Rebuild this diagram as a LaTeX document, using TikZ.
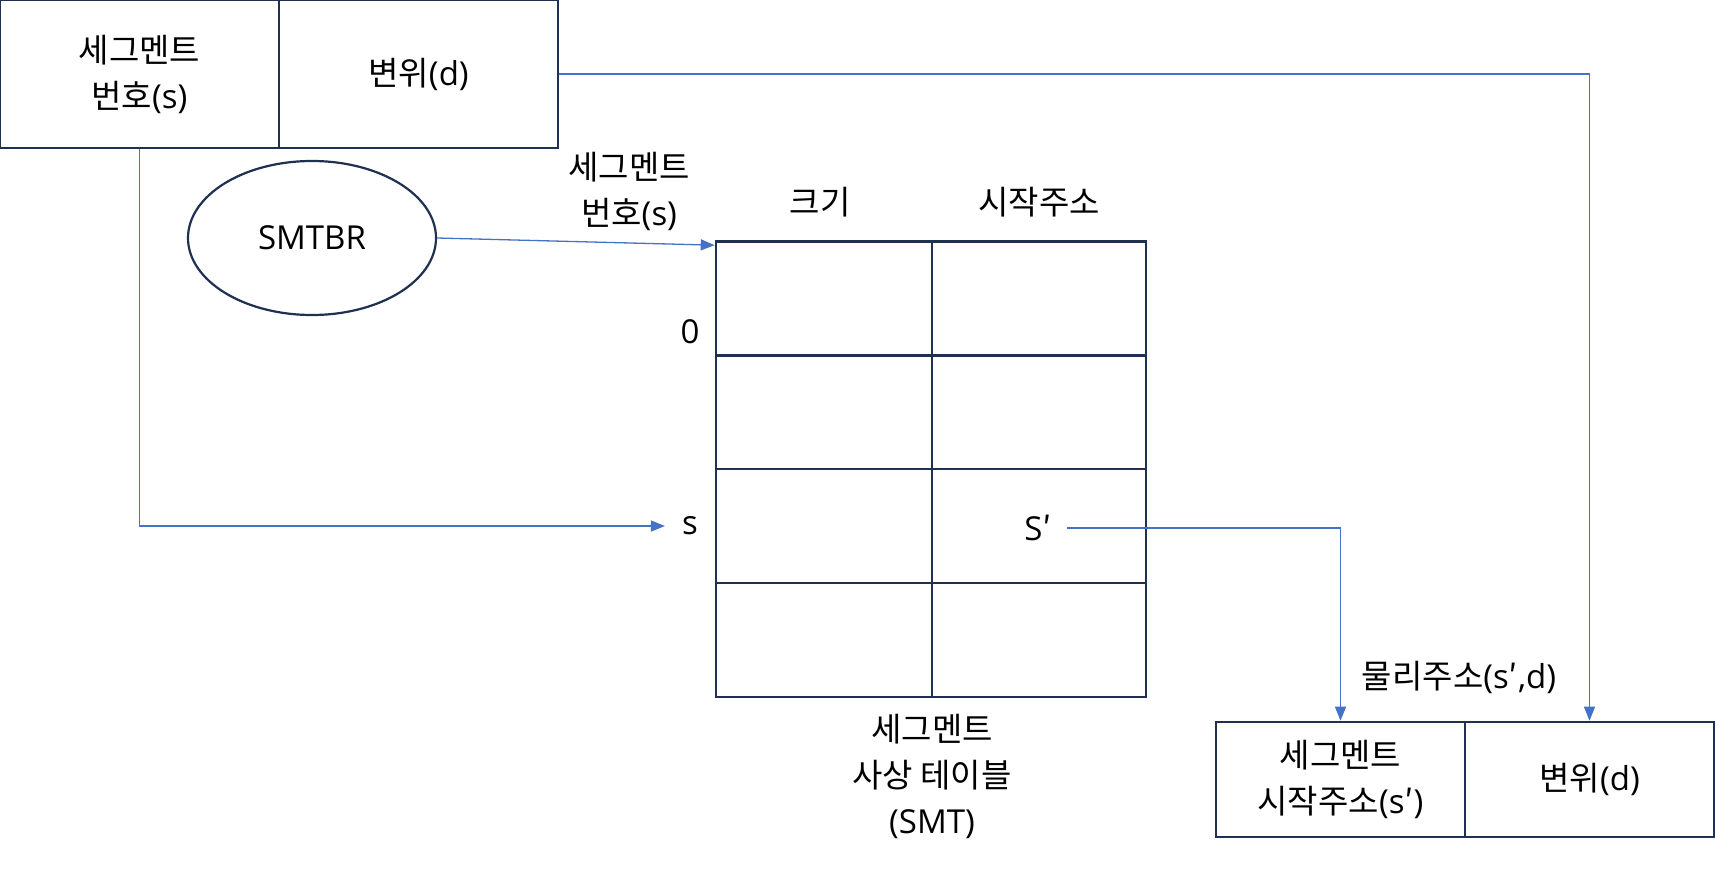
\documentclass[tikz,border=0pt]{standalone}
\usepackage{fontspec}
\setmainfont{Noto Sans CJK KR}
\newfontfamily\lt{Open Sans}
\usetikzlibrary{arrows.meta,shapes.geometric}
\definecolor{boxc}{RGB}{31,48,80}
\definecolor{arrc}{RGB}{68,114,196}
\tikzset{
  cell/.style={draw=boxc, line width=2.6pt, inner sep=0pt, align=center, font=\fontsize{33}{46}\selectfont},
  lbl/.style={inner sep=0pt, align=center, font=\fontsize{33}{46}\selectfont},
  arr/.style={draw=arrc, line width=1.3pt, -{Triangle[length=14pt,width=11pt]}},
  conn/.style={draw=arrc, line width=1.3pt}
}
\begin{document}
\begin{tikzpicture}[x=1pt,y=-1pt]
\useasboundingbox (0,0) rectangle (1715,869);
% top logical address
\node[cell, minimum width=279pt, minimum height=148pt] (tl) at (139.5,74) {세그멘트\\번호{\lt(s)}};
\node[cell, minimum width=279pt, minimum height=148pt] (tr) at (418.5,74) {변위{\lt(d)}};
% SMTBR
\node[draw=boxc, line width=2.2pt, ellipse, minimum width=248pt, minimum height=154pt, inner sep=0pt, font=\fontsize{33}{46}\selectfont] (smtbr) at (312,238) {\lt SMTBR};
% table
\foreach \r/\yc in {1/298.5,2/412,3/526,4/640}{
  \node[cell, minimum width=216pt, minimum height=114pt] (c\r1) at (824,\yc) {};
  \node[cell, minimum width=214pt, minimum height=114pt] (c\r2) at (1039,\yc) {};
}
\node[lbl] (hsize) at (820,202) {크기};
\node[lbl] (hstart) at (1039,202) {시작주소};
\node[lbl] (hnum) at (629,191) {세그멘트\\번호{\lt(s)}};
\node[lbl] (r0) at (690,332) {\lt 0};
\node[lbl, inner xsep=17pt] (rs) at (690,526) {\lt s};
\node[lbl, inner xsep=15pt] (sp) at (1038,528) {{\lt S}′};
\node[lbl] (smt) at (932,776) {세그멘트\\사상 테이블\\{\lt(SMT)}};
% physical address
\node[cell, minimum width=249pt, minimum height=115pt] (bl) at (1340.5,779.5) {세그멘트\\시작주소{\lt(s}′{\lt)}};
\node[cell, minimum width=249pt, minimum height=115pt] (br) at (1589.5,779.5) {변위{\lt(d)}};
\node[lbl] (phys) at (1459,677) {물리주소{\lt(s}′{\lt,d)}};
% connectors
\draw[arr] (tl.south) |- (rs.west);
\draw[arr] (smtbr.east) -- ([yshift=-5pt]c11.north west);
\draw[arr] (tr.east) -| (br.north);
\draw[arr] (sp.east) -| (bl.north);
\end{tikzpicture}
\end{document}
